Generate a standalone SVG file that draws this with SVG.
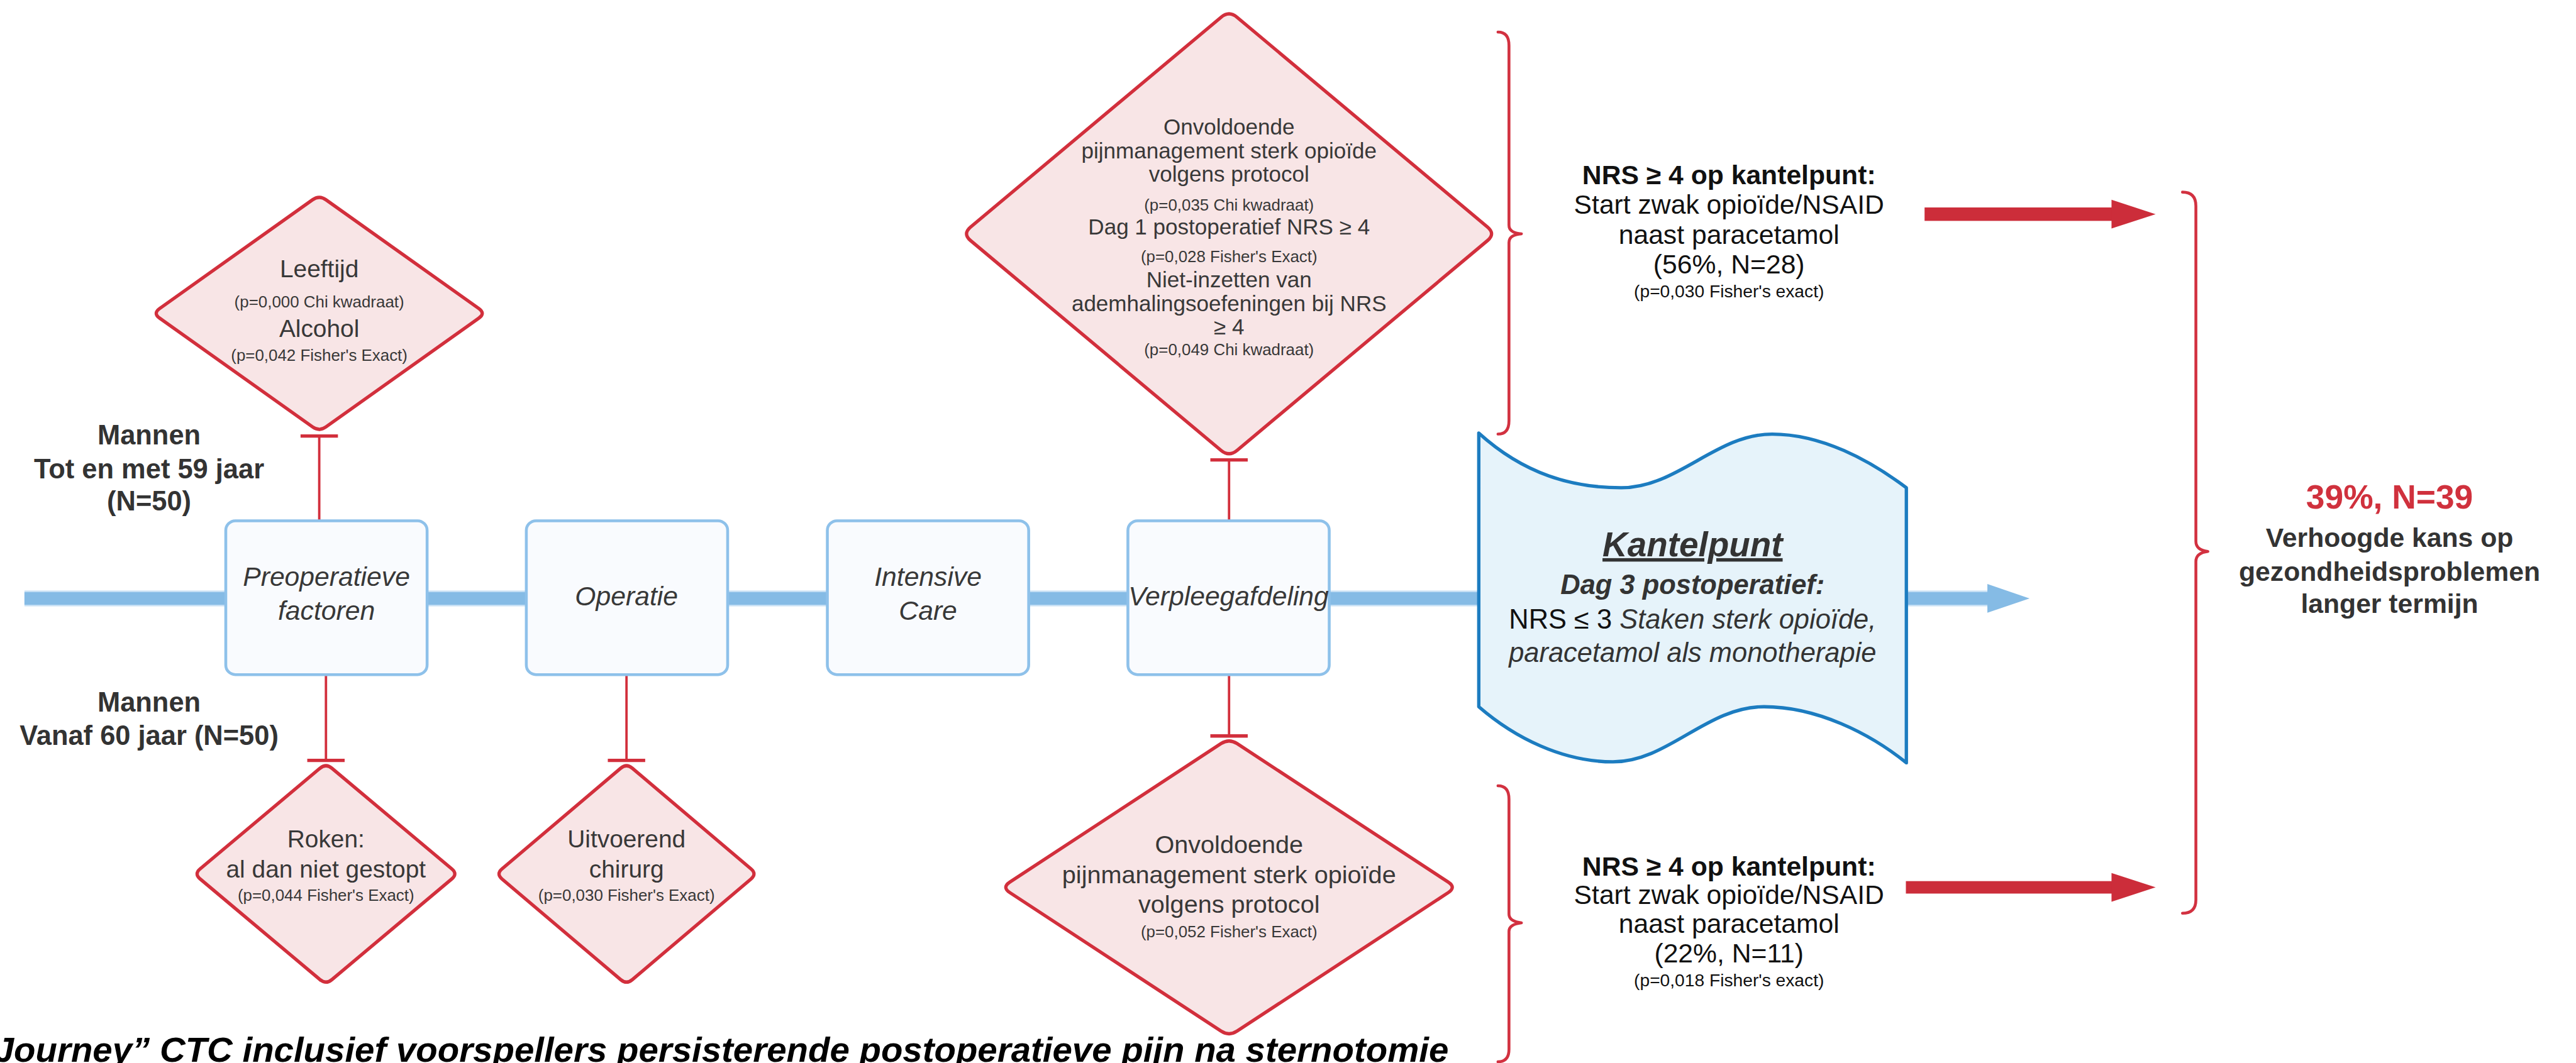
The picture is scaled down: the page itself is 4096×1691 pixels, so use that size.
<svg xmlns="http://www.w3.org/2000/svg" width="4096" height="1691" viewBox="0 0 4096 1691">
<defs>
<style>
.dia{fill:#f8e5e6;stroke:#d22f3c;stroke-width:7;stroke-linejoin:round}
.box{fill:#f9fbfe;stroke:#8ec1ea;stroke-width:6}
.t{font-family:"Liberation Sans",Arial,sans-serif;fill:#383838;text-anchor:middle}
.dt{font-size:51px}
.dm{font-size:46px}
.dl{font-size:52px}
.sm{font-size:34px}
.bx{font-size:56px;font-style:italic}
.lbl{font-size:57px;font-weight:bold;fill:#333}
.nrs{font-size:56px;fill:#111}
.nsm{font-size:37px;fill:#111}
.rb{font-size:56px;font-weight:bold;fill:#333}
.con{stroke:#d22f3c;stroke-width:5;fill:none}
.tbar{stroke:#d22f3c;stroke-width:7}
.brace{fill:none;stroke:#d23140;stroke-width:6;stroke-linecap:round;stroke-linejoin:round}
.red{fill:#cc2d3a}
</style>
</defs>
<rect width="4096" height="1691" fill="#ffffff"/>
<g transform="scale(0.76219)">

<g id="timeline">
<line x1="51" y1="1249" x2="4150" y2="1249" stroke="#c5dff4" stroke-width="33"/>
<line x1="51" y1="1249" x2="4150" y2="1249" stroke="#85bbe5" stroke-width="26"/>
<polygon points="4146,1219 4234,1249 4146,1279" fill="#85bbe5"/>
</g>

<g id="connectors">
<line class="con" x1="666" y1="910" x2="666" y2="1087"/>
<line class="tbar" x1="627" y1="910" x2="705" y2="910"/>
<line class="con" x1="680" y1="1408" x2="680" y2="1587"/>
<line class="tbar" x1="641" y1="1587" x2="719" y2="1587"/>
<line class="con" x1="1307" y1="1408" x2="1307" y2="1587"/>
<line class="tbar" x1="1268" y1="1587" x2="1346" y2="1587"/>
<line class="con" x1="2564" y1="960" x2="2564" y2="1087"/>
<line class="tbar" x1="2525" y1="960" x2="2603" y2="960"/>
<line class="con" x1="2564" y1="1408" x2="2564" y2="1536"/>
<line class="tbar" x1="2525" y1="1536" x2="2603" y2="1536"/>
<g id="red-arrow-top"><rect class="red" x="4015" y="433" width="395" height="28"/><polygon class="red" points="4405,417 4497,447 4405,477"/></g>
<g id="red-arrow-bottom"><rect class="red" x="3976" y="1839" width="434" height="26"/><polygon class="red" points="4405,1822 4497,1852 4405,1882"/></g>
</g>

<g id="box-preop">
<rect class="box" x="471" y="1087" width="420" height="321" rx="20"/>
<text class="t bx" x="681" y="1223">Preoperatieve</text>
<text class="t bx" x="681" y="1293">factoren</text>
</g>
<g id="box-operatie">
<rect class="box" x="1098" y="1087" width="420" height="321" rx="20"/>
<text class="t bx" x="1307" y="1263">Operatie</text>
</g>
<g id="box-ic">
<rect class="box" x="1726" y="1087" width="420" height="321" rx="20"/>
<text class="t bx" x="1936" y="1223">Intensive</text>
<text class="t bx" x="1936" y="1293">Care</text>
</g>
<g id="box-verpleeg">
<rect class="box" x="2353" y="1087" width="420" height="321" rx="20"/>
<text class="t bx" x="2563" y="1263">Verpleegafdeling</text>
</g>

<g id="dia-leeftijd">
<path class="dia" d="M652.1,416.9 Q666,407 679.9,416.9 L999.1,644.1 Q1013,654 999.1,663.9 L679.9,891.1 Q666,901 652.1,891.1 L332.9,663.9 Q319,654 332.9,644.1 Z"/>
<text class="t dt" x="666" y="578">Leeftijd</text>
<text class="t sm" x="666" y="641">(p=0,000 Chi kwadraat)</text>
<text class="t dt" x="666" y="703">Alcohol</text>
<text class="t sm" x="666" y="753">(p=0,042 Fisher's Exact)</text>
</g>

<g id="dia-roken">
<path class="dia" d="M667.6,1603.4 Q680,1593 692.4,1603.4 L942.6,1813.6 Q955,1824 942.6,1834.4 L692.4,2044.6 Q680,2055 667.6,2044.6 L417.4,1834.4 Q405,1824 417.4,1813.6 Z"/>
<text class="t dt" x="680" y="1768">Roken:</text>
<text class="t dt" x="680" y="1831">al dan niet gestopt</text>
<text class="t sm" x="680" y="1880">(p=0,044 Fisher's Exact)</text>
</g>

<g id="dia-chirurg">
<path class="dia" d="M1294.8,1603.4 Q1307,1593 1319.2,1603.4 L1566.8,1813.6 Q1579,1824 1566.8,1834.4 L1319.2,2044.6 Q1307,2055 1294.8,2044.6 L1047.2,1834.4 Q1035,1824 1047.2,1813.6 Z"/>
<text class="t dt" x="1307" y="1768">Uitvoerend</text>
<text class="t dt" x="1307" y="1831">chirurg</text>
<text class="t sm" x="1307" y="1880">(p=0,030 Fisher's Exact)</text>
</g>

<g id="dia-verpleeg-top">
<path class="dia" d="M2547.3,36 Q2564,22 2580.7,36 L3103.3,474 Q3120,488 3103.3,502 L2580.7,940 Q2564,954 2547.3,940 L2024.7,502 Q2008,488 2024.7,474 Z"/>
<text class="t dm" x="2564" y="281">Onvoldoende</text>
<text class="t dm" x="2564" y="330">pijnmanagement sterk opioïde</text>
<text class="t dm" x="2564" y="379">volgens protocol</text>
<text class="t sm" x="2564" y="439">(p=0,035 Chi kwadraat)</text>
<text class="t dm" x="2564" y="490">Dag 1 postoperatief NRS ≥ 4</text>
<text class="t sm" x="2564" y="547">(p=0,028 Fisher's Exact)</text>
<text class="t dm" x="2564" y="599">Niet-inzetten van</text>
<text class="t dm" x="2564" y="649">ademhalingsoefeningen bij NRS</text>
<text class="t dm" x="2564" y="698">≥ 4</text>
<text class="t sm" x="2564" y="741">(p=0,049 Chi kwadraat)</text>
</g>

<g id="dia-verpleeg-bottom">
<path class="dia" d="M2547.4,1551.9 Q2564,1541 2580.6,1551.9 L3021.4,1841.1 Q3038,1852 3021.4,1862.9 L2580.6,2152.1 Q2564,2163 2547.4,2152.1 L2106.6,1862.9 Q2090,1852 2106.6,1841.1 Z"/>
<text class="t dl" x="2564" y="1780">Onvoldoende</text>
<text class="t dl" x="2564" y="1844">pijnmanagement sterk opioïde</text>
<text class="t dl" x="2564" y="1905">volgens protocol</text>
<text class="t sm" x="2564" y="1956">(p=0,052 Fisher's Exact)</text>
</g>

<g id="kantelpunt">
<path d="M3085,904 C3180,990 3280,1018 3382,1018 C3500,1018 3580,906 3697,906 C3800,906 3900,960 3977,1018 L3977,1592 C3900,1530 3790,1475 3680,1475 C3560,1475 3480,1590 3365,1590 C3260,1590 3160,1540 3085,1475 Z" fill="#e6f3fa" stroke="#1c7cc0" stroke-width="7" stroke-linejoin="round"/>
<text class="t" x="3531" y="1161" style="font-size:72px;font-weight:bold;font-style:italic;fill:#333;text-decoration:underline">Kantelpunt</text>
<text class="t" x="3531" y="1240" style="font-size:57px;font-weight:bold;font-style:italic;fill:#333">Dag 3 postoperatief:</text>
<text class="t" x="3531" y="1312" style="font-size:57px;fill:#111">NRS ≤ 3 <tspan style="font-style:italic;fill:#333">Staken sterk opioïde,</tspan></text>
<text class="t" x="3531" y="1381" style="font-size:57px;font-style:italic;fill:#333">paracetamol als monotherapie</text>
</g>

<g id="label-mannen-jong">
<text class="t lbl" x="311" y="927">Mannen</text>
<text class="t lbl" x="311" y="998">Tot en met 59 jaar</text>
<text class="t lbl" x="311" y="1065">(N=50)</text>
</g>
<g id="label-mannen-oud">
<text class="t lbl" x="311" y="1485">Mannen</text>
<text class="t lbl" x="311" y="1555">Vanaf 60 jaar (N=50)</text>
</g>

<g id="braces">
<path class="brace" d="M3125,67 Q3148,67 3148,95 L3148,470 Q3148,486 3174,488 Q3148,490 3148,506 L3148,878 Q3148,906 3125,906"/>
<path class="brace" d="M3125,1640 Q3148,1640 3148,1668 L3148,1908 Q3148,1923 3174,1926 Q3148,1929 3148,1944 L3148,2190 Q3148,2216 3125,2216"/>
<path class="brace" d="M4553,401 Q4581,401 4581,430 L4581,1130 Q4581,1148 4606,1151 Q4581,1154 4581,1172 L4581,1878 Q4581,1906 4553,1906"/>
</g>

<g id="nrs-top">
<text class="t nrs" x="3607" y="385" style="font-weight:bold">NRS ≥ 4 op kantelpunt:</text>
<text class="t nrs" x="3607" y="446">Start zwak opioïde/NSAID</text>
<text class="t nrs" x="3607" y="509">naast paracetamol</text>
<text class="t nrs" x="3607" y="571">(56%, N=28)</text>
<text class="t nsm" x="3607" y="620">(p=0,030 Fisher's exact)</text>
</g>
<g id="nrs-bottom">
<text class="t nrs" x="3607" y="1827" style="font-weight:bold">NRS ≥ 4 op kantelpunt:</text>
<text class="t nrs" x="3607" y="1887">Start zwak opioïde/NSAID</text>
<text class="t nrs" x="3607" y="1947">naast paracetamol</text>
<text class="t nrs" x="3607" y="2009">(22%, N=11)</text>
<text class="t nsm" x="3607" y="2058">(p=0,018 Fisher's exact)</text>
</g>

<g id="outcome">
<text class="t" x="4985" y="1061" style="font-size:70px;font-weight:bold;fill:#d0313d">39%, N=39</text>
<text class="t rb" x="4985" y="1141">Verhoogde kans op</text>
<text class="t rb" x="4985" y="1212">gezondheidsproblemen</text>
<text class="t rb" x="4985" y="1279">langer termijn</text>
</g>

<text x="3022" y="2216" style="font-family:'Liberation Sans',Arial,sans-serif;font-size:74px;font-weight:bold;font-style:italic;fill:#000;text-anchor:end">Journey” CTC inclusief voorspellers persisterende postoperatieve pijn na sternotomie</text>
</g>
</svg>
